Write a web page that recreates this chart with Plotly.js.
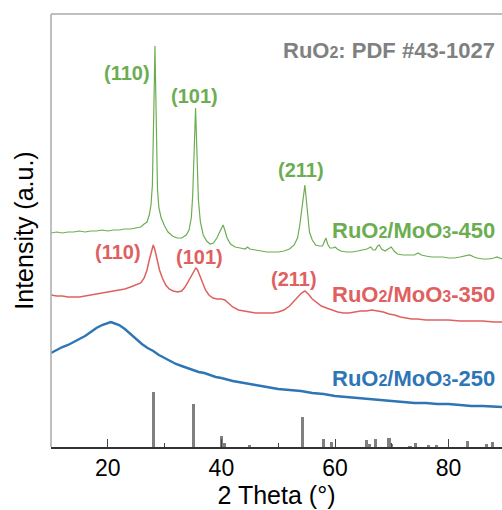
<!DOCTYPE html>
<html>
<head>
<meta charset="utf-8">
<script src="https://cdn.plot.ly/plotly-3.0.1.min.js"></script>
<style>
  html, body { margin: 0; padding: 0; background: #fff; }
  #chart { width: 502px; height: 510px; }
</style>
</head>
<body>
<div id="chart"></div>
<script>
// XRD patterns of RuO2/MoO3 calcined at 250, 350 and 450 °C (stacked, arbitrary units)

// RuO2/MoO3-450
const t450 = [10,11,12,13,14,15,16,17,18,19,20,21,22,23,24,25,25.8,26.4,26.9,27.3,27.6,27.85,28.05,28.2,28.3,28.4,28.55,28.75,29.0,29.4,30.0,30.6,31.4,32.2,33.0,33.8,34.3,34.7,34.95,35.15,35.3,35.45,35.6,35.75,35.95,36.3,36.8,37.4,38.0,38.6,39.2,39.7,40.3,40.6,41.0,41.6,42.4,43.3,44.2,44.6,45.0,46.0,47.0,48.0,49.0,50.0,51.0,52.0,52.8,53.4,53.8,54.1,54.4,54.7,54.95,55.2,55.5,56.0,56.6,57.2,57.8,58.1,58.4,58.7,59.1,59.6,60.0,60.4,61.0,62.0,63.0,64.0,65.0,65.6,66.3,66.7,67.1,67.5,67.8,68.2,68.8,69.4,69.9,70.4,71.0,72.0,73.0,74.0,74.6,75.2,76.0,77.0,78.0,79.0,80.0,81.0,82.0,83.0,83.7,84.5,85.0,86.0,87.0,88.0,88.5,89.4];
const i450 = [214,215,214,215,215,216,215,216,216,217,216,217,217,218,218,219,220,223,225,232,242,262,307,367,401,357,297,257,239,229,221,215,211,209,209,212,217,229,252,287,317,339,312,277,247,225,212,206,203,204,209,215,222,217,209,203,200,199,198,200,198,197,196,195,195,195,196,198,202,209,222,237,252,262,247,229,215,207,202,201,201,205,209,203,199,199,200,198,196,195,195,196,197,198,200,197,197,201,202,198,196,198,200,196,193,192,192,192,194,192,191,190,190,190,189,189,190,191,192,190,189,188,188,189,190,188];

// RuO2/MoO3-350
const t350 = [10,11,12,13,14,15,16,17,18,19,20,21,22,23,24,25,25.8,26.4,26.9,27.3,27.7,28.0,28.3,28.7,29.1,29.6,30.2,30.8,31.5,32.3,33.0,33.6,34.2,34.8,35.2,35.5,35.8,36.2,36.7,37.2,37.8,38.5,39.2,40.0,40.6,41.2,42.0,43.0,44.0,45.0,46.0,47.0,48.0,49.0,50.0,51.0,52.0,52.8,53.5,54.1,54.7,55.3,56.0,56.8,57.6,58.5,59.5,60.5,61.5,62.5,63.5,64.5,65.5,66.5,67.5,68.5,69.5,70.5,71.5,72.5,73.5,74.5,76.0,78.0,80.0,82.0,84.0,86.0,88.0,89.4];
const i350 = [152,151,151,150,150,150,151,152,153,154,155,156,157,158,160,162,164,169,177,187,197,202,197,187,177,169,162,158,156,155,156,160,166,173,177,179,177,171,163,157,152,149,148,148,147,144,140,137,136,135,134,134,134,134,135,137,141,146,151,154,156,153,148,144,141,139,137,135,134,134,135,136,136,137,136,135,133,132,130,129,128,128,127,127,127,126,126,126,125,125];

// RuO2/MoO3-250
const t250 = [10,11,12,13,14,15,16,17,18,19,20,20.5,21,22,23,24,25,26,27,28,29,30,31,32,33,34,35,36,37,38,39,40,42,44,46,48,50,52,54,56,58,60,62,64,66,68,70,72,74,76,78,80,82,84,86,88,89.4];
const i250 = [94,97,100,102,105,108,111,115,119,122,124,125,124,122,118,113,108,103,99,96,92,89,86,83,81,79,77,75,74,72,70,69,66,64,62,60,58,57,56,54,53,51,50,49,48,47,46,45,44,44,43,43,42,41,41,40,40];

// RuO2 reference pattern, PDF #43-1027
const refPos = [28.0,35.05,40.0,40.5,45.0,54.25,57.9,59.4,65.5,66.0,67.2,69.5,70.0,73.2,74.1,76.5,77.8,83.4,86.6,87.7];
const refInt = [55,43,11,4,2,30,8,5,7,3,8,9,3,1.5,4,2,2,6,3,5];

const seriesNames = ['RuO2/MoO3-450', 'RuO2/MoO3-350', 'RuO2/MoO3-250'];
const colGreen = '#6cad52', colRed = '#e06060', colBlue = '#2e75b6', colGray = '#808080';

const sub = s => '<span style="font-size:16px">' + s + '</span>';
const sampleLabel = temp => 'RuO' + sub('2') + '/MoO' + sub('3') + '-' + temp;

const traces = [
  { type: 'bar', x: refPos, y: refInt, width: 0.55, marker: { color: colGray }, name: 'PDF #43-1027', hoverinfo: 'x' },
  { type: 'scatter', mode: 'lines', x: t250, y: i250, name: seriesNames[2], line: { color: colBlue, width: 2.4 } },
  { type: 'scatter', mode: 'lines', x: t350, y: i350, name: seriesNames[1], line: { color: colRed, width: 1.5 } },
  { type: 'scatter', mode: 'lines', x: t450, y: i450, name: seriesNames[0], line: { color: colGreen, width: 1.2 } }
];

const fam = '"Liberation Sans", Arial, sans-serif';
const ann = (x, y, text, color, size, xanchor) => ({
  x: x, y: y, xref: 'x', yref: 'y', text: text, showarrow: false,
  xanchor: xanchor || 'center', yanchor: 'middle',
  font: { family: fam, size: size, color: color, weight: 'bold' }
});

const layout = {
  width: 502, height: 510,
  margin: { l: 51, r: 0, t: 14, b: 63 },
  paper_bgcolor: '#fff', plot_bgcolor: '#fff',
  showlegend: false,
  bargap: 0,
  font: { family: fam, color: '#000' },
  xaxis: {
    range: [10, 89.4],
    showgrid: false, zeroline: false,
    showline: true, linecolor: '#333', linewidth: 1.5,
    ticks: 'inside', ticklen: 8, tickwidth: 1, tickcolor: '#444',
    tick0: 0, dtick: 20,
    minor: { ticks: 'inside', ticklen: 4, tickwidth: 1, tickcolor: '#444', dtick: 10 },
    tickfont: { family: fam, size: 23, color: '#000' },
    title: { text: '2 Theta (°)', font: { family: fam, size: 25, color: '#000' }, standoff: 6 }
  },
  yaxis: {
    range: [0, 433],
    showgrid: false, zeroline: false, showline: false,
    showticklabels: false, ticks: '',
    title: { text: 'Intensity (a.u.)', font: { family: fam, size: 25, color: '#000' }, standoff: 9 }
  },
  shapes: [
    { type: 'line', xref: 'paper', yref: 'paper', x0: 0, x1: 1, y0: 1, y1: 1, line: { color: '#aaa', width: 1.5 } },
    { type: 'line', xref: 'paper', yref: 'paper', x0: 0, x1: 0, y0: 0, y1: 1, line: { color: '#aaa', width: 1.5 } }
  ],
  annotations: [
    ann(88.5, 397, 'RuO' + sub('2') + ': PDF #43-1027', colGray, 22, 'right'),
    ann(23.3, 374, '(110)', colGreen, 20),
    ann(35.2, 351, '(101)', colGreen, 20),
    ann(54.0, 277, '(211)', colGreen, 20),
    ann(21.8, 195, '(110)', colRed, 20),
    ann(36.1, 190, '(101)', colRed, 20),
    ann(52.8, 168, '(211)', colRed, 20),
    ann(88.5, 217, sampleLabel(450), colGreen, 22, 'right'),
    ann(88.5, 153, sampleLabel(350), colRed, 22, 'right'),
    ann(88.5, 69, sampleLabel(250), colBlue, 22, 'right')
  ]
};

Plotly.newPlot('chart', traces, layout, { displayModeBar: false, staticPlot: true });
</script>
</body>
</html>
